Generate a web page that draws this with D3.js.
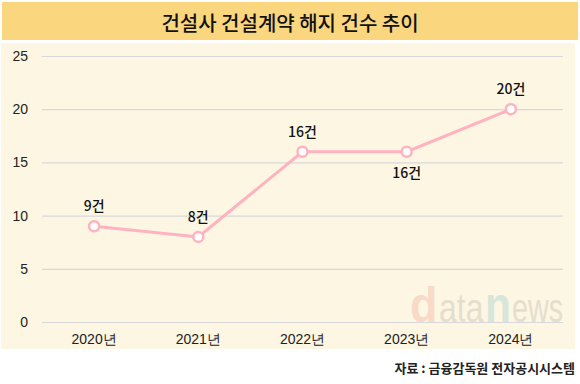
<!DOCTYPE html>
<html>
<head>
<meta charset="utf-8">
<script src="https://cdn.jsdelivr.net/npm/d3@7"></script>
<style>
  body { margin: 0; background: #fff; }
  svg { display: block; font-family: "Noto Sans CJK KR", "Noto Sans", sans-serif; }
</style>
</head>
<body>
<div id="chart"></div>
<script>
// 데이터
const years = ["2020년", "2021년", "2022년", "2023년", "2024년"];
const counts = [9, 8, 16, 16, 20];
const yTicks = [0, 5, 10, 15, 20, 25];
const labelBelow = [false, false, false, true, false];

const width = 580;
const height = 384;
const margin = ({ top: 56, right: 17, bottom: 62, left: 42 })

const svg = d3.select('#chart')
  .append("svg")
  .attr("width", width)
  .attr("height", height);

// 제목 배경
svg.append("rect")
  .attr("x", 2).attr("y", 2)
  .attr("width", width - 4).attr("height", 38)
  .attr("fill", "#FAD67F");

svg.append("text")
  .attr("x", width / 2).attr("y", 22)
  .attr("text-anchor", "middle")
  .attr("dominant-baseline", "central")
  .attr("font-size", 20)
  .attr("font-weight", 500)
  .attr("fill", "#111")
  .text("건설사 건설계약 해지 건수 추이");

// 패널 배경
svg.append("rect")
  .attr("x", 1).attr("y", 43)
  .attr("width", width - 6).attr("height", 306)
  .attr("fill", "#FDF6E3");

const x = d3.scaleBand()
  .domain(years)
  .range([margin.left, width - margin.right])

const y = d3.scaleLinear()
  .domain([0, 25])
  .range([height - margin.bottom, margin.top])

// 워터마크 (글자 조각별로 따로, 가로로 눌러서)
const wmParts = [
  { t: "d", x: 410, sx: 0.9, bold: true, fill: "#F2B9A6" },
  { t: "ata", x: 439, sx: 0.8, bold: false, fill: "#C9C3B5" },
  { t: "n", x: 485, sx: 0.85, bold: true, fill: "#A9D3CF" },
  { t: "ews", x: 512, sx: 0.72, bold: false, fill: "#C9C3B5" }
];
svg.append("g")
  .attr("opacity", 0.45)
  .selectAll("text")
  .data(wmParts)
  .join("text")
  .attr("transform", d => `translate(${d.x},322) scale(${d.sx},1)`)
  .attr("font-family", "'Liberation Sans', Arial, sans-serif")
  .attr("font-size", d => d.bold ? 50 : 40)
  .attr("font-weight", d => d.bold ? 700 : 400)
  .attr("fill", d => d.fill)
  .text(d => d.t);

// y축 그리드
const yAxis = svg.append("g")
  .attr("transform", `translate(${margin.left},0)`)
  .call(d3.axisLeft(y).tickValues(yTicks).tickSize(-(width - margin.left - margin.right)).tickPadding(14))
  .call(g => g.select(".domain").remove());
yAxis.selectAll(".tick line").attr("stroke", "#D6D8DC").attr("stroke-width", 1.2);
yAxis.selectAll(".tick text")
  .attr("font-size", 14).attr("font-weight", 500).attr("fill", "#222");

// x축
const xAxis = svg.append("g")
  .attr("transform", `translate(0,${height - margin.bottom})`)
  .call(d3.axisBottom(x).tickSize(0).tickPadding(12))
  .call(g => g.select(".domain").remove());
xAxis.selectAll(".tick text").attr("font-size", 14).attr("font-weight", 500).attr("fill", "#222");

const cx = d => x(d) + x.bandwidth() / 2;

// 선
svg.append("path")
  .datum(counts)
  .attr("fill", "none")
  .attr("stroke", "#FFB2C0")
  .attr("stroke-width", 3)
  .attr("d", d3.line().x((d, i) => cx(years[i])).y(d => y(d)));

svg.selectAll(".dot")
  .data(counts)
  .join("circle")
  .attr("class", "dot")
  .attr("cx", (d, i) => cx(years[i]))
  .attr("cy", d => y(d))
  .attr("r", 5)
  .attr("fill", "#fff")
  .attr("stroke", "#FFB2C0")
  .attr("stroke-width", 2.5);

svg.selectAll(".val")
  .data(counts)
  .join("text")
  .attr("class", "val")
  .attr("x", (d, i) => cx(years[i]))
  .attr("y", (d, i) => y(d) + (labelBelow[i] ? 20 : -21))
  .attr("text-anchor", "middle")
  .attr("dominant-baseline", "central")
  .attr("font-size", 14)
  .attr("font-weight", 500)
  .attr("fill", "#111")
  .text(d => d + "건");

// 출처
svg.append("text")
  .attr("x", 575).attr("y", 367)
  .attr("text-anchor", "end")
  .attr("dominant-baseline", "central")
  .attr("font-size", 13)
  .attr("font-weight", 700)
  .attr("fill", "#222")
  .text("자료 : 금융감독원 전자공시시스템");
</script>
</body>
</html>
